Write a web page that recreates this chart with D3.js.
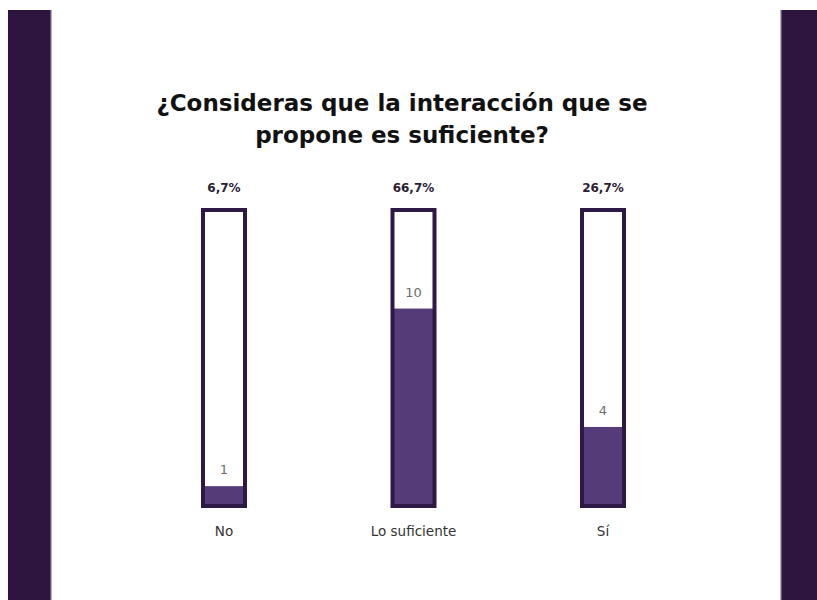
<!DOCTYPE html>
<html>
<head>
<meta charset="utf-8">
<script src="https://cdn.jsdelivr.net/npm/d3@7/dist/d3.min.js"></script>
<style>
  html, body { margin: 0; padding: 0; background: #ffffff; }
  svg { display: block; }
</style>
</head>
<body>
<svg id="chart" width="817" height="600"></svg>
<script>
// Survey answers
const categories = ["No", "Lo suficiente", "Sí"];
const counts = [1, 10, 4];
const percents = [6.7, 66.7, 26.7];
const percentLabels = ["6,7%", "66,7%", "26,7%"];
const titleLines = ["¿Consideras que la interacción que se", "propone es suficiente?"];

const W = 817, H = 600;
const svg = d3.select("#chart");

const dark = "#2e1540";
const outline = "#2d1846";
const fillColor = "#553b78";

// Side panels
svg.append("rect").attr("x", 8).attr("y", 10).attr("width", 43).attr("height", H - 10).attr("fill", dark);
svg.append("rect").attr("x", 50).attr("y", 10).attr("width", 1.5).attr("height", H - 10).attr("fill", "#6a5780");
svg.append("rect").attr("x", 781).attr("y", 10).attr("width", W - 781).attr("height", H - 10).attr("fill", dark);
svg.append("rect").attr("x", 780.5).attr("y", 10).attr("width", 1.5).attr("height", H - 10).attr("fill", "#6a5780");

// Title
const title = svg.append("text")
  .attr("text-anchor", "middle")
  .attr("font-family", "'DejaVu Sans', sans-serif")
  .attr("font-weight", "bold")
  .attr("font-size", 23)
  .attr("fill", "#111111");
titleLines.forEach((t, i) => {
  title.append("tspan").attr("x", 402).attr("y", 111 + i * 32).text(t);
});

// Scales
const x = d3.scalePoint().domain(categories).range([224, 603]);
const y = d3.scaleLinear().domain([0, 100]).range([506, 210]);
const barW = 42;

const g = svg.append("g");
const bars = g.selectAll("g.bar").data(categories).join("g").attr("class", "bar");

const cx = d => x(d);

// Filled portion
bars.append("rect")
  .attr("x", d => cx(d) - barW / 2)
  .attr("width", barW)
  .attr("y", (d, i) => y(percents[i]))
  .attr("height", (d, i) => y(0) - y(percents[i]))
  .attr("fill", fillColor);

// Outline (full scale)
bars.append("rect")
  .attr("x", d => cx(d) - barW / 2)
  .attr("width", barW)
  .attr("y", y(100))
  .attr("height", y(0) - y(100))
  .attr("fill", "none")
  .attr("stroke", outline)
  .attr("stroke-width", 4);

// Percentage labels
bars.append("text")
  .attr("x", d => cx(d))
  .attr("y", 192)
  .attr("text-anchor", "middle")
  .attr("font-family", "'DejaVu Sans', sans-serif")
  .attr("font-weight", "bold")
  .attr("font-size", 12)
  .attr("fill", "#2a2035")
  .text((d, i) => percentLabels[i]);

// Count labels
bars.append("text")
  .attr("x", d => cx(d))
  .attr("y", (d, i) => y(percents[i]) - 12)
  .attr("text-anchor", "middle")
  .attr("font-family", "'DejaVu Sans', sans-serif")
  .attr("font-size", 13)
  .attr("fill", "#6e6e6e")
  .text((d, i) => counts[i]);

// Category labels
bars.append("text")
  .attr("x", d => cx(d))
  .attr("y", 536)
  .attr("text-anchor", "middle")
  .attr("font-family", "'DejaVu Sans', sans-serif")
  .attr("font-size", 13.5)
  .attr("fill", "#333333")
  .text(d => d);
</script>
</body>
</html>
